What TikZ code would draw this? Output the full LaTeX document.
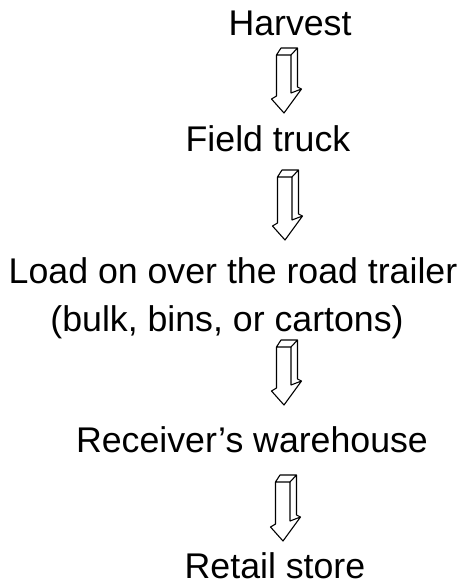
\documentclass[tikz,border=0pt]{standalone}
\usepackage{fontspec}
\setmainfont{Liberation Sans}
\usetikzlibrary{calc}

\tikzset{
  stage/.style={anchor=base, inner sep=0pt, font=\fontsize{35.7}{40}\selectfont},
  blockarrow/.style={draw=black, line width=1.1pt, line join=round, line cap=round},
}

% Hollow block arrow with a visible top and right side face.
% #1 = coordinate of the top of the back edge, #2 = coordinate of the tip.
\newcommand\flowarrow[2]{%
  \draw[blockarrow] let \p1=(#1), \p2=(#2) in
    % outline
    (\x2-7.5pt,\y1-7pt) -- (\x2-7.5pt,\y2+17pt) -- (\x2-12.5pt,\y2+14pt)
    -- (\x2,\y2) -- (\x2+17.5pt,\y2+24pt) -- (\x2+13.5pt,\y2+26pt)
    -- (\x2+13.5pt,\y1) -- (\x2-3pt,\y1) -- cycle
    % front face edges
    (\x2-7.5pt,\y1-7pt) -- (\x2+7pt,\y1-7pt) -- (\x2+13.5pt,\y1)
    (\x2+7pt,\y1-7pt) -- (\x2+7pt,\y2+20pt) -- (\x2+17.5pt,\y2+24pt);
}

\begin{document}
\begin{tikzpicture}[x=1pt,y=-1pt]
  \useasboundingbox (0,0) rectangle (460,586);

  \node[stage] (harvest)  at (290,36)  {Harvest};
  \node[stage] (field)    at (268,151) {Field truck};
  \node[stage] (load)     at (233,283) {Load on over the road trailer};
  \node[stage] (bulk)     at (227,331) {(bulk, bins, or cartons)};
  \node[stage] (receiver) at (252,452) {Receiver's warehouse};
  \node[stage] (retail)   at (275,578) {Retail store};

  \coordinate (a1top) at (284,48);  \coordinate (a1tip) at (284,113);
  \coordinate (a2top) at (285,170); \coordinate (a2tip) at (285,240);
  \coordinate (a3top) at (284,340); \coordinate (a3tip) at (284,405);
  \coordinate (a4top) at (283,475); \coordinate (a4tip) at (283,541);

  \flowarrow{a1top}{a1tip}
  \flowarrow{a2top}{a2tip}
  \flowarrow{a3top}{a3tip}
  \flowarrow{a4top}{a4tip}
\end{tikzpicture}
\end{document}
